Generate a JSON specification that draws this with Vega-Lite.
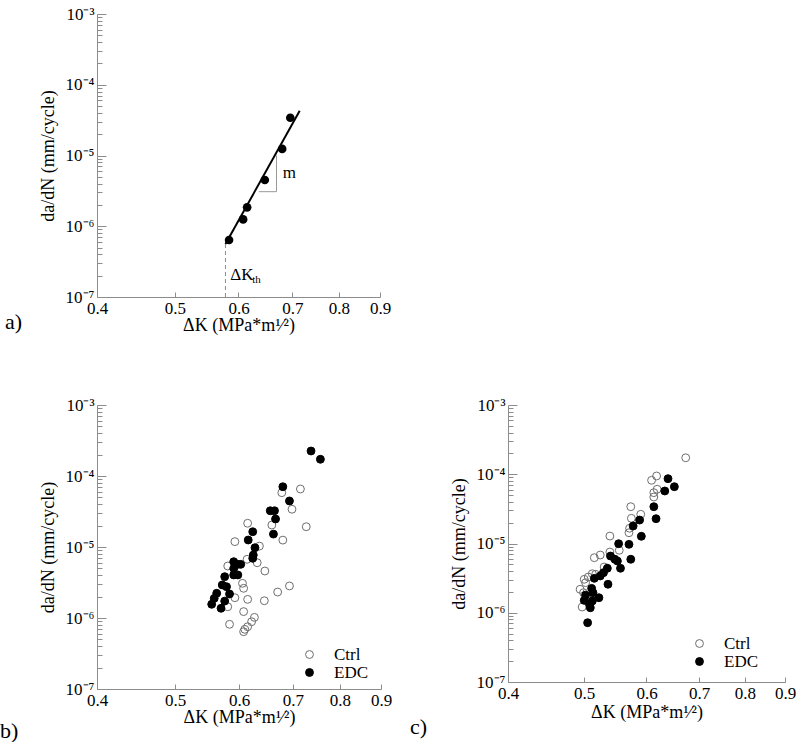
{
  "$schema": "https://vega.github.io/schema/vega-lite/v6.json",
  "padding": {"left": 0, "top": 5, "right": 0, "bottom": 0},
  "spacing": 62,
  "datasets": {
    "a_pts": [
      {"dk": 0.584, "dadn": 6.4e-7}, {"dk": 0.608, "dadn": 1.25e-6}, {"dk": 0.615, "dadn": 1.85e-6},
      {"dk": 0.647, "dadn": 4.5e-6}, {"dk": 0.680, "dadn": 1.24e-5}, {"dk": 0.696, "dadn": 3.42e-5}
    ],
    "a_fit": [{"dk": 0.578, "dadn": 5.6e-7}, {"dk": 0.715, "dadn": 4.3e-5}],
    "a_th": [{"dk": 0.578, "dadn": 1e-7}, {"dk": 0.578, "dadn": 5.6e-7}],
    "a_tri": [{"i": 1, "dk": 0.636, "dadn": 3.08e-6}, {"i": 2, "dk": 0.669, "dadn": 3.08e-6}, {"i": 3, "dk": 0.669, "dadn": 1.0e-5}],
    "a_lbl": [{"dk": 0.681, "dadn": 5.6e-6, "label": "m"}, {"dk": 0.586, "dadn": 2.05e-7, "label": "ΔK"}],
    "a_sub": [{"dk": 0.624, "dadn": 1.72e-7, "label": "th"}],
    "b_pts": [
      {"dk": 0.715, "dadn": 6.56e-5, "group": "Ctrl"}, {"dk": 0.678, "dadn": 5.82e-5, "group": "Ctrl"},
      {"dk": 0.698, "dadn": 3.40e-5, "group": "Ctrl"}, {"dk": 0.727, "dadn": 1.93e-5, "group": "Ctrl"},
      {"dk": 0.659, "dadn": 2.04e-5, "group": "Ctrl"}, {"dk": 0.615, "dadn": 2.16e-5, "group": "Ctrl"},
      {"dk": 0.680, "dadn": 1.25e-5, "group": "Ctrl"}, {"dk": 0.593, "dadn": 1.19e-5, "group": "Ctrl"},
      {"dk": 0.636, "dadn": 1.03e-5, "group": "Ctrl"}, {"dk": 0.614, "dadn": 6.71e-6, "group": "Ctrl"},
      {"dk": 0.632, "dadn": 6.0e-6, "group": "Ctrl"}, {"dk": 0.581, "dadn": 5.4e-6, "group": "Ctrl"},
      {"dk": 0.646, "dadn": 4.59e-6, "group": "Ctrl"}, {"dk": 0.606, "dadn": 3.08e-6, "group": "Ctrl"},
      {"dk": 0.608, "dadn": 2.62e-6, "group": "Ctrl"}, {"dk": 0.593, "dadn": 1.93e-6, "group": "Ctrl"},
      {"dk": 0.615, "dadn": 1.83e-6, "group": "Ctrl"}, {"dk": 0.645, "dadn": 1.75e-6, "group": "Ctrl"},
      {"dk": 0.670, "dadn": 2.32e-6, "group": "Ctrl"}, {"dk": 0.693, "dadn": 2.83e-6, "group": "Ctrl"},
      {"dk": 0.581, "dadn": 1.44e-6, "group": "Ctrl"}, {"dk": 0.608, "dadn": 1.23e-6, "group": "Ctrl"},
      {"dk": 0.627, "dadn": 1.02e-6, "group": "Ctrl"}, {"dk": 0.622, "dadn": 8.87e-7, "group": "Ctrl"},
      {"dk": 0.615, "dadn": 7.53e-7, "group": "Ctrl"}, {"dk": 0.608, "dadn": 6.41e-7, "group": "Ctrl"},
      {"dk": 0.584, "dadn": 8.15e-7, "group": "Ctrl"}, {"dk": 0.610, "dadn": 6.93e-7, "group": "Ctrl"},
      {"dk": 0.680, "dadn": 7.06e-5, "group": "EDC"}, {"dk": 0.693, "dadn": 4.45e-5, "group": "EDC"},
      {"dk": 0.656, "dadn": 3.24e-5, "group": "EDC"}, {"dk": 0.664, "dadn": 3.24e-5, "group": "EDC"},
      {"dk": 0.666, "dadn": 2.48e-5, "group": "EDC"}, {"dk": 0.662, "dadn": 1.52e-5, "group": "EDC"},
      {"dk": 0.624, "dadn": 1.64e-5, "group": "EDC"}, {"dk": 0.616, "dadn": 1.255e-5, "group": "EDC"},
      {"dk": 0.628, "dadn": 9.77e-6, "group": "EDC"}, {"dk": 0.625, "dadn": 7.7e-6, "group": "EDC"},
      {"dk": 0.624, "dadn": 6.93e-6, "group": "EDC"}, {"dk": 0.591, "dadn": 6.21e-6, "group": "EDC"},
      {"dk": 0.603, "dadn": 5.7e-6, "group": "EDC"}, {"dk": 0.598, "dadn": 5.7e-6, "group": "EDC"},
      {"dk": 0.591, "dadn": 5.0e-6, "group": "EDC"}, {"dk": 0.591, "dadn": 4.04e-6, "group": "EDC"},
      {"dk": 0.598, "dadn": 4.04e-6, "group": "EDC"}, {"dk": 0.576, "dadn": 3.82e-6, "group": "EDC"},
      {"dk": 0.572, "dadn": 2.92e-6, "group": "EDC"}, {"dk": 0.579, "dadn": 2.76e-6, "group": "EDC"},
      {"dk": 0.563, "dadn": 2.23e-6, "group": "EDC"}, {"dk": 0.584, "dadn": 2.18e-6, "group": "EDC"},
      {"dk": 0.559, "dadn": 1.89e-6, "group": "EDC"}, {"dk": 0.576, "dadn": 1.73e-6, "group": "EDC"},
      {"dk": 0.555, "dadn": 1.56e-6, "group": "EDC"}, {"dk": 0.570, "dadn": 1.37e-6, "group": "EDC"},
      {"dk": 0.737, "dadn": 2.25e-4, "group": "EDC"}, {"dk": 0.757, "dadn": 1.72e-4, "group": "EDC"}
    ],
    "c_pts": [
      {"dk": 0.673, "dadn": 1.73e-4, "group": "Ctrl"}, {"dk": 0.618, "dadn": 9.44e-5, "group": "Ctrl"},
      {"dk": 0.609, "dadn": 8.18e-5, "group": "Ctrl"}, {"dk": 0.619, "dadn": 6.07e-5, "group": "Ctrl"},
      {"dk": 0.613, "dadn": 5.42e-5, "group": "Ctrl"}, {"dk": 0.613, "dadn": 4.69e-5, "group": "Ctrl"},
      {"dk": 0.573, "dadn": 3.40e-5, "group": "Ctrl"}, {"dk": 0.590, "dadn": 2.64e-5, "group": "Ctrl"},
      {"dk": 0.574, "dadn": 2.31e-5, "group": "Ctrl"}, {"dk": 0.571, "dadn": 1.66e-5, "group": "Ctrl"},
      {"dk": 0.570, "dadn": 1.43e-5, "group": "Ctrl"}, {"dk": 0.539, "dadn": 1.28e-5, "group": "Ctrl"},
      {"dk": 0.554, "dadn": 7.98e-6, "group": "Ctrl"}, {"dk": 0.539, "dadn": 7.53e-6, "group": "Ctrl"},
      {"dk": 0.524, "dadn": 6.82e-6, "group": "Ctrl"}, {"dk": 0.515, "dadn": 6.24e-6, "group": "Ctrl"},
      {"dk": 0.530, "dadn": 4.58e-6, "group": "Ctrl"}, {"dk": 0.517, "dadn": 3.59e-6, "group": "Ctrl"},
      {"dk": 0.506, "dadn": 3.28e-6, "group": "Ctrl"}, {"dk": 0.500, "dadn": 3.04e-6, "group": "Ctrl"},
      {"dk": 0.512, "dadn": 3.66e-6, "group": "Ctrl"}, {"dk": 0.494, "dadn": 2.18e-6, "group": "Ctrl"},
      {"dk": 0.499, "dadn": 1.95e-6, "group": "Ctrl"}, {"dk": 0.504, "dadn": 1.65e-6, "group": "Ctrl"},
      {"dk": 0.497, "dadn": 1.21e-6, "group": "Ctrl"}, {"dk": 0.511, "dadn": 1.75e-6, "group": "Ctrl"},
      {"dk": 0.502, "dadn": 2.72e-6, "group": "Ctrl"},
      {"dk": 0.639, "dadn": 8.63e-5, "group": "EDC"}, {"dk": 0.651, "dadn": 6.61e-5, "group": "EDC"},
      {"dk": 0.633, "dadn": 5.73e-5, "group": "EDC"}, {"dk": 0.613, "dadn": 3.40e-5, "group": "EDC"},
      {"dk": 0.617, "dadn": 2.28e-5, "group": "EDC"}, {"dk": 0.588, "dadn": 2.18e-5, "group": "EDC"},
      {"dk": 0.577, "dadn": 1.79e-5, "group": "EDC"}, {"dk": 0.591, "dadn": 1.27e-5, "group": "EDC"},
      {"dk": 0.553, "dadn": 9.93e-6, "group": "EDC"}, {"dk": 0.570, "dadn": 9.73e-6, "group": "EDC"},
      {"dk": 0.573, "dadn": 5.92e-6, "group": "EDC"}, {"dk": 0.540, "dadn": 6.59e-6, "group": "EDC"},
      {"dk": 0.547, "dadn": 5.92e-6, "group": "EDC"}, {"dk": 0.551, "dadn": 5.58e-6, "group": "EDC"},
      {"dk": 0.556, "dadn": 4.39e-6, "group": "EDC"}, {"dk": 0.535, "dadn": 4.39e-6, "group": "EDC"},
      {"dk": 0.529, "dadn": 3.79e-6, "group": "EDC"}, {"dk": 0.524, "dadn": 3.40e-6, "group": "EDC"},
      {"dk": 0.515, "dadn": 3.14e-6, "group": "EDC"}, {"dk": 0.536, "dadn": 2.58e-6, "group": "EDC"},
      {"dk": 0.511, "dadn": 2.25e-6, "group": "EDC"}, {"dk": 0.502, "dadn": 1.80e-6, "group": "EDC"},
      {"dk": 0.513, "dadn": 1.95e-6, "group": "EDC"}, {"dk": 0.522, "dadn": 1.65e-6, "group": "EDC"},
      {"dk": 0.500, "dadn": 1.51e-6, "group": "EDC"}, {"dk": 0.508, "dadn": 1.32e-6, "group": "EDC"},
      {"dk": 0.512, "dadn": 1.48e-6, "group": "EDC"}, {"dk": 0.509, "dadn": 1.18e-6, "group": "EDC"},
      {"dk": 0.505, "dadn": 7.18e-7, "group": "EDC"}
    ]
  },
  "vconcat": [
    {
      "width": 283,
      "height": 283,
      "title": {"text": "a)", "orient": "bottom", "anchor": "start", "frame": "group", "dx": -92, "dy": -22, "offset": 0},
      "encoding": {
        "x": {"field": "dk", "type": "quantitative", "scale": {"type": "log", "domain": [0.4, 0.9], "nice": false},
          "axis": {"title": "ΔK (MPa*m¹⁄²)", "values": [0.4, 0.5, 0.6, 0.7, 0.8, 0.9], "format": ".1f", "tickSize": -5, "labelPadding": 8, "titlePadding": 0}},
        "y": {"field": "dadn", "type": "quantitative", "scale": {"type": "log", "domain": [1e-7, 0.001], "nice": false},
          "axis": {"title": "da/dN (mm/cycle)", "titlePadding": 8, "labelPadding": 12,
            "values": [1e-7, 2e-7, 3e-7, 4e-7, 5e-7, 6e-7, 7e-7, 8e-7, 9e-7, 1e-6, 2e-6, 3e-6, 4e-6, 5e-6, 6e-6, 7e-6, 8e-6, 9e-6, 1e-5, 2e-5, 3e-5, 4e-5, 5e-5, 6e-5, 7e-5, 8e-5, 9e-5, 1e-4, 2e-4, 3e-4, 4e-4, 5e-4, 6e-4, 7e-4, 8e-4, 9e-4, 0.001],
            "labelExpr": "abs(datum.value/1e-7-1)<0.01 ? '10⁻⁷' : abs(datum.value/1e-6-1)<0.01 ? '10⁻⁶' : abs(datum.value/1e-5-1)<0.01 ? '10⁻⁵' : abs(datum.value/1e-4-1)<0.01 ? '10⁻⁴' : abs(datum.value/1e-3-1)<0.01 ? '10⁻³' : ''",
            "tickSize": {"condition": {"test": "abs(log(datum.value)/LN10 - round(log(datum.value)/LN10)) < 0.001", "value": -9}, "value": -5}}}
      },
      "layer": [
        {"data": {"name": "a_th"}, "mark": {"type": "line", "color": "#8c8c8c", "strokeWidth": 1, "strokeDash": [4, 3]}},
        {"data": {"name": "a_tri"}, "mark": {"type": "line", "color": "#999999", "strokeWidth": 1}, "encoding": {"order": {"field": "i", "type": "quantitative"}}},
        {"data": {"name": "a_fit"}, "mark": {"type": "line", "color": "black", "strokeWidth": 2}},
        {"data": {"name": "a_pts"}, "mark": {"type": "circle", "color": "black", "size": 75, "opacity": 1}},
        {"data": {"name": "a_lbl"}, "mark": {"type": "text", "align": "left", "baseline": "middle", "fontSize": 17, "font": "Liberation Serif", "color": "black"}, "encoding": {"text": {"field": "label"}}},
        {"data": {"name": "a_sub"}, "mark": {"type": "text", "align": "left", "baseline": "middle", "fontSize": 11, "font": "Liberation Serif", "color": "black"}, "encoding": {"text": {"field": "label"}}}
      ]
    },
    {
      "spacing": 18,
      "hconcat": [
        {
          "width": 284,
          "height": 284,
          "title": {"text": "b)", "orient": "bottom", "anchor": "start", "frame": "group", "dx": -97, "dy": -5, "offset": 0},
          "data": {"name": "b_pts"},
          "mark": {"type": "circle", "size": 62, "strokeWidth": 1, "opacity": 1},
          "encoding": {
            "x": {"field": "dk", "type": "quantitative", "scale": {"type": "log", "domain": [0.4, 0.9], "nice": false},
              "axis": {"title": "ΔK (MPa*m¹⁄²)", "values": [0.4, 0.5, 0.6, 0.7, 0.8, 0.9], "format": ".1f", "tickSize": -5, "labelPadding": 8, "titlePadding": 0}},
            "y": {"field": "dadn", "type": "quantitative", "scale": {"type": "log", "domain": [1e-7, 0.001], "nice": false},
              "axis": {"title": "da/dN (mm/cycle)", "titlePadding": 8, "labelPadding": 12,
                "values": [1e-7, 2e-7, 3e-7, 4e-7, 5e-7, 6e-7, 7e-7, 8e-7, 9e-7, 1e-6, 2e-6, 3e-6, 4e-6, 5e-6, 6e-6, 7e-6, 8e-6, 9e-6, 1e-5, 2e-5, 3e-5, 4e-5, 5e-5, 6e-5, 7e-5, 8e-5, 9e-5, 1e-4, 2e-4, 3e-4, 4e-4, 5e-4, 6e-4, 7e-4, 8e-4, 9e-4, 0.001],
                "labelExpr": "abs(datum.value/1e-7-1)<0.01 ? '10⁻⁷' : abs(datum.value/1e-6-1)<0.01 ? '10⁻⁶' : abs(datum.value/1e-5-1)<0.01 ? '10⁻⁵' : abs(datum.value/1e-4-1)<0.01 ? '10⁻⁴' : abs(datum.value/1e-3-1)<0.01 ? '10⁻³' : ''",
                "tickSize": {"condition": {"test": "abs(log(datum.value)/LN10 - round(log(datum.value)/LN10)) < 0.001", "value": -9}, "value": -5}}},
            "fill": {"field": "group", "type": "nominal", "scale": {"domain": ["Ctrl", "EDC"], "range": ["transparent", "black"]},
              "legend": {"orient": "none", "legendX": 204, "legendY": 241, "title": null}},
            "stroke": {"field": "group", "type": "nominal", "scale": {"domain": ["Ctrl", "EDC"], "range": ["#6e6e6e", "black"]},
              "legend": {"orient": "none", "legendX": 204, "legendY": 241, "title": null}}
          }
        },
        {
          "width": 277,
          "height": 277,
          "title": {"text": "c)", "orient": "bottom", "anchor": "start", "frame": "group", "dx": -98, "dy": -4, "offset": 0},
          "data": {"name": "c_pts"},
          "mark": {"type": "circle", "size": 62, "strokeWidth": 1, "opacity": 1},
          "encoding": {
            "x": {"field": "dk", "type": "quantitative", "scale": {"type": "log", "domain": [0.4, 0.9], "nice": false},
              "axis": {"title": "ΔK (MPa*m¹⁄²)", "values": [0.4, 0.5, 0.6, 0.7, 0.8, 0.9], "format": ".1f", "tickSize": -5, "labelPadding": 8, "titlePadding": 2}},
            "y": {"field": "dadn", "type": "quantitative", "scale": {"type": "log", "domain": [1e-7, 0.001], "nice": false},
              "axis": {"title": "da/dN (mm/cycle)", "titlePadding": 8, "labelPadding": 12,
                "values": [1e-7, 2e-7, 3e-7, 4e-7, 5e-7, 6e-7, 7e-7, 8e-7, 9e-7, 1e-6, 2e-6, 3e-6, 4e-6, 5e-6, 6e-6, 7e-6, 8e-6, 9e-6, 1e-5, 2e-5, 3e-5, 4e-5, 5e-5, 6e-5, 7e-5, 8e-5, 9e-5, 1e-4, 2e-4, 3e-4, 4e-4, 5e-4, 6e-4, 7e-4, 8e-4, 9e-4, 0.001],
                "labelExpr": "abs(datum.value/1e-7-1)<0.01 ? '10⁻⁷' : abs(datum.value/1e-6-1)<0.01 ? '10⁻⁶' : abs(datum.value/1e-5-1)<0.01 ? '10⁻⁵' : abs(datum.value/1e-4-1)<0.01 ? '10⁻⁴' : abs(datum.value/1e-3-1)<0.01 ? '10⁻³' : ''",
                "tickSize": {"condition": {"test": "abs(log(datum.value)/LN10 - round(log(datum.value)/LN10)) < 0.001", "value": -9}, "value": -5}}},
            "fill": {"field": "group", "type": "nominal", "scale": {"domain": ["Ctrl", "EDC"], "range": ["transparent", "black"]},
              "legend": {"orient": "none", "legendX": 183, "legendY": 230, "title": null}},
            "stroke": {"field": "group", "type": "nominal", "scale": {"domain": ["Ctrl", "EDC"], "range": ["#6e6e6e", "black"]},
              "legend": {"orient": "none", "legendX": 183, "legendY": 230, "title": null}}
          }
        }
      ],
      "resolve": {"scale": {"fill": "independent", "stroke": "independent"}}
    }
  ],
  "config": {
    "view": {"stroke": null},
    "font": "Liberation Serif",
    "axis": {"grid": false, "domainColor": "#8c8c8c", "tickColor": "#8c8c8c", "labelFont": "Liberation Serif", "labelFontSize": 17, "labelColor": "black", "titleFont": "Liberation Serif", "titleFontSize": 18, "titleFontWeight": "normal", "titleColor": "black", "labelFlush": false, "labelOverlap": false},
    "legend": {"labelFont": "Liberation Serif", "labelFontSize": 17, "labelColor": "black", "symbolSize": 62, "symbolType": "circle", "symbolStrokeWidth": 1, "labelOffset": 16, "rowPadding": 0, "padding": 0},
    "title": {"font": "Liberation Serif", "fontSize": 22, "fontWeight": "normal", "color": "black"}
  }
}
